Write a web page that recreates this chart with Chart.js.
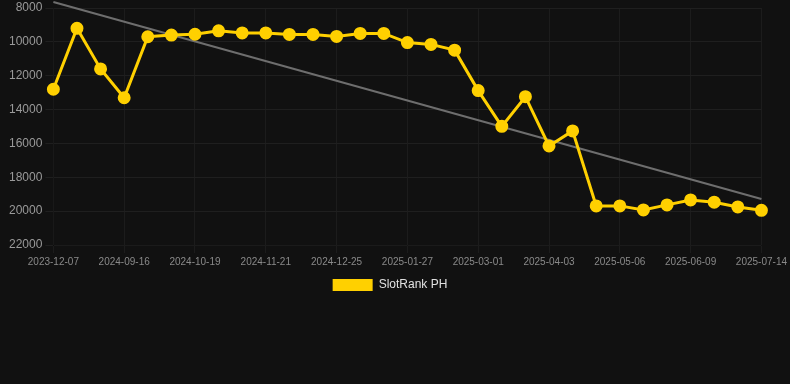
<!DOCTYPE html>
<html>
<head>
<meta charset="utf-8">
<script src="https://cdn.jsdelivr.net/npm/chart.js@4"></script>
<style>
    body {
        margin: 0;
        background-color: #111111;
    }

    #chart-box {
        width: 790px;
        height: 301px;
    }
</style>
</head>
<body>
<div id="chart-box">
    <canvas id="rankChart"></canvas>
</div>
<script>
let dates = [
    '2023-12-07', '2024-08-25', '2024-09-05', '2024-09-16', '2024-09-27', '2024-10-08',
    '2024-10-19', '2024-10-30', '2024-11-10', '2024-11-21', '2024-12-03', '2024-12-14',
    '2024-12-25', '2025-01-05', '2025-01-16', '2025-01-27', '2025-02-07', '2025-02-18',
    '2025-03-01', '2025-03-12', '2025-03-23', '2025-04-03', '2025-04-14', '2025-04-25',
    '2025-05-06', '2025-05-17', '2025-05-28', '2025-06-09', '2025-06-20', '2025-07-02',
    '2025-07-14'
];
let ranks = [
    12800, 9200, 11600, 13300, 9700, 9600,
    9550, 9350, 9470, 9470, 9560, 9560,
    9680, 9500, 9500, 10040, 10150, 10490,
    12880, 14990, 13240, 16150, 15260, 19690,
    19690, 19930, 19630, 19340, 19470, 19750,
    19950
];
// trend only has its two ends, the rest is spanned
let trend = [7650, null, null, null, null, null, null, null, null, null, null, null, null, null, null, null,
    null, null, null, null, null, null, null, null, null, null, null, null, null, null, 19280];
let yMin = 8000;
let yMax = 22000;
let yStep = 2000;

let fontFamily = "'Liberation Sans', Arial, sans-serif";

function drawChart() {
    const ctx = document.getElementById('rankChart');

    new Chart(ctx, {
        type: 'line',
        data: {
            labels: dates,
            datasets: [{
                label: 'SlotRank PH',
                data: ranks,
                borderColor: '#ffd000',
                backgroundColor: '#ffd000',
                borderWidth: 3,
                pointRadius: 5,
                pointHoverRadius: 5,
                tension: 0
            }, {
                label: 'trend',
                data: trend,
                borderColor: '#6e6e6e',
                borderWidth: 2,
                pointRadius: 0,
                spanGaps: true,
                clip: false
            }]
        },
        options: {
            responsive: true,
            maintainAspectRatio: false,
            animation: false,
            layout: {
                padding: { left: 6, right: 16, top: 0, bottom: 0 }
            },
            scales: {
                x: {
                    grid: { color: '#1c1c1c' },
                    ticks: {
                        color: '#8a8a8a',
                        font: { family: fontFamily, size: 10 },
                        maxRotation: 0,
                        maxTicksLimit: 11
                    }
                },
                y: {
                    reverse: true,
                    min: yMin,
                    max: yMax,
                    grid: { color: '#1f1f1f' },
                    ticks: {
                        stepSize: yStep,
                        color: '#9a9a9a',
                        font: { family: fontFamily, size: 12, lineHeight: 0.5 },
                        callback: function (value) {
                            return value;
                        }
                    }
                }
            },
            plugins: {
                legend: {
                    position: 'bottom',
                    labels: {
                        color: '#e0e0e0',
                        padding: 8,
                        font: { family: fontFamily, size: 12 },
                        filter: function (item) {
                            return item.text != 'trend';
                        },
                        generateLabels: function (chart) {
                            let items = Chart.defaults.plugins.legend.labels.generateLabels(chart);
                            for (let i = 0; i < items.length; i++) {
                                items[i].lineWidth = 0;
                            }
                            return items;
                        }
                    }
                },
                tooltip: { enabled: false }
            }
        }
    });
}

drawChart();
</script>
</body>
</html>
